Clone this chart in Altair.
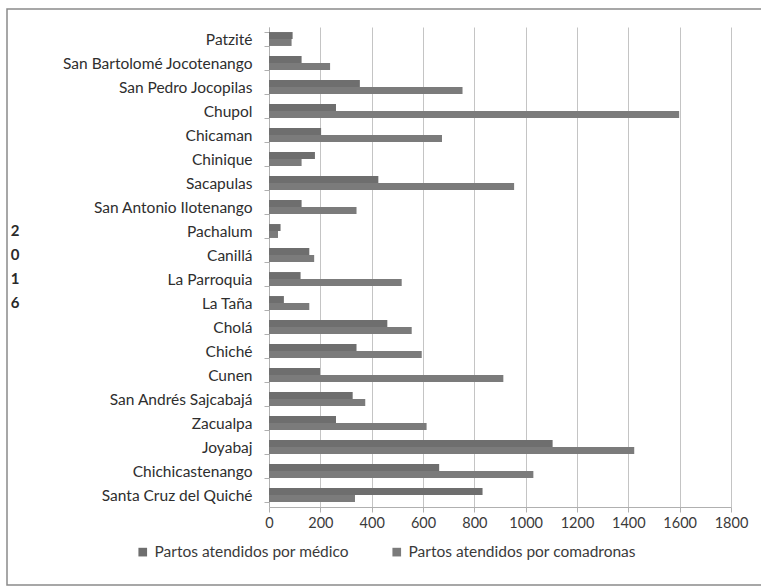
import altair as alt
import pandas as pd

categories = [
    "Patzité", "San Bartolomé Jocotenango", "San Pedro Jocopilas", "Chupol",
    "Chicaman", "Chinique", "Sacapulas", "San Antonio Ilotenango", "Pachalum",
    "Canillá", "La Parroquia", "La Taña", "Cholá", "Chiché", "Cunen",
    "San Andrés Sajcabajá", "Zacualpa", "Joyabaj", "Chichicastenango",
    "Santa Cruz del Quiché",
]
medico = [92, 127, 354, 261, 203, 179, 426, 127, 45, 157, 123, 58, 461, 341, 199, 326, 261, 1105, 663, 832]
comadronas = [88, 238, 754, 1598, 674, 127, 955, 341, 35, 176, 517, 157, 556, 595, 913, 375, 614, 1423, 1030, 335]
series_names = ["Partos atendidos por médico", "Partos atendidos por comadronas"]
x_ticks = [0, 200, 400, 600, 800, 1000, 1200, 1400, 1600, 1800]

year_chars = ["2", "0", "1", "6"]
year_rows = ["Pachalum", "Canillá", "La Parroquia", "La Taña"]

rows = []
for c, m, k in zip(categories, medico, comadronas):
    rows.append({"cat": c, "serie": series_names[0], "val": m})
    rows.append({"cat": c, "serie": series_names[1], "val": k})
df = pd.DataFrame(rows)
year_df = pd.DataFrame({"cat": year_rows, "ch": year_chars})

FONT = "Lato"

yscale = alt.Scale(domain=categories, paddingInner=0.42, paddingOuter=0.21)

bars = alt.Chart(df).mark_bar(opacity=1).encode(
    x=alt.X("val:Q", scale=alt.Scale(domain=[0, 1800], nice=False),
            axis=alt.Axis(values=x_ticks, format="d", labelOverlap=False, labelFlush=False,
                          title=None, grid=True, gridColor="#c4c4c4",
                          domainColor="#b0b0b0", tickColor="#b0b0b0", tickSize=5,
                          labelFontSize=14.5, labelColor="#3a3a3a", labelPadding=4,
                          labelFont=FONT)),
    y=alt.Y("cat:N", scale=yscale, sort=categories,
            axis=alt.Axis(title=None, tickBand="extent", domainColor="#b0b0b0",
                          tickColor="#b0b0b0", tickSize=5, labelPadding=12,
                          labelFontSize=15.5, labelColor="#2e2e2e", labelFont=FONT,
                          labelLimit=300)),
    yOffset=alt.YOffset("serie:N", sort=series_names,
                        scale=alt.Scale(paddingInner=0, paddingOuter=0)),
    color=alt.Color("serie:N", sort=series_names,
                    scale=alt.Scale(domain=series_names, range=["#6e6e6e", "#7b7b7b"]),
                    legend=alt.Legend(title=None, orient="none", direction="horizontal",
                                      legendX=-134, legendY=517, symbolType="square",
                                      symbolSize=75, symbolStrokeWidth=0,
                                      labelFontSize=15.5, labelColor="#3a3a3a",
                                      labelFont=FONT, columnPadding=40,
                                      labelLimit=400)),
)

year_text = alt.Chart(year_df).mark_text(
    font=FONT, fontSize=15, fontWeight="bold", color="#2a2a2a", align="center"
).encode(
    y=alt.Y("cat:N", scale=yscale, sort=categories),
    x=alt.value(-254),
    text="ch:N",
)

border = alt.Chart(pd.DataFrame({"k": [0]})).mark_rect(
    fill=None, stroke="#8a8a8a", strokeWidth=1.5
).encode(
    x=alt.value(-262), x2=alt.value(520), y=alt.value(-18), y2=alt.value(558)
)

chart = alt.layer(border, bars, year_text).properties(
    width=462, height=480,
    autosize=alt.AutoSizeParams(type="none"),
    padding={"left": 269, "top": 27, "right": 30, "bottom": 81},
    background="white",
).configure_view(stroke=None)

chart.save("out.html", embed_options={"renderer": "svg", "actions": False})
